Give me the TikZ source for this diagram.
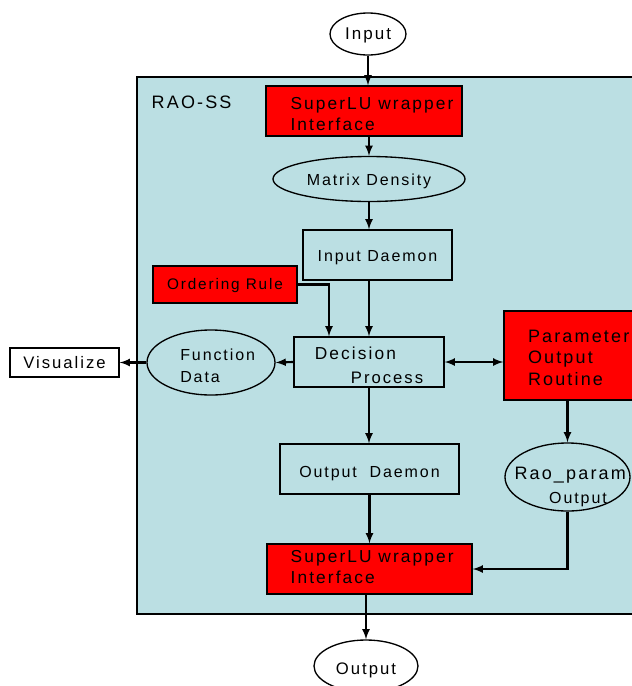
\documentclass[tikz,border=0pt]{standalone}
\usepackage{fontspec}
\setmainfont{Liberation Sans}[LetterSpace=12]
\usetikzlibrary{shapes.geometric,arrows}
\definecolor{raoblue}{RGB}{187,223,227}
\definecolor{raored}{RGB}{255,0,0}
\newcommand{\txtsize}[1]{\fontsize{#1}{16}\selectfont}
% lower the text a little inside its box, keeping the box size
\newcommand{\lowtxt}[2][3pt]{\raisebox{-#1}[\height][\depth]{\begin{tabular}{@{}l@{}}#2\end{tabular}}}

\begin{document}
\begin{tikzpicture}
                                [
                                    x=0.75pt, y=-0.75pt,
                                    redbox/.style = {draw, shape=rectangle, fill=raored, line width=1pt, inner sep=0pt},
                                    plainbox/.style = {draw, shape=rectangle, line width=1pt, inner sep=0pt},
                                    oval/.style = {draw, shape=ellipse, line width=1pt, inner sep=0pt},
                                    flow/.style = {-latex, line width=1.6pt},
                                ]

                                \clip (0,0) rectangle (632,686);
                                \filldraw[fill=raoblue, line width=1.2pt] (137,77) rectangle (660,614);
                                \node[anchor=west, font=\txtsize{13.5}] (raoss) at (147,102) {RAO-SS};

                                \node[oval, fill=white, minimum width=57pt, minimum height=31.5pt, font=\txtsize{12.75}] (input) at (368,34) {\lowtxt[0.75pt]{Input}};
                                \node[redbox, minimum width=147pt, minimum height=37.5pt, font=\txtsize{13}] (superTop) at (364,111)
                                    {\lowtxt[3.75pt]{\hspace*{12pt}SuperLU wrapper\\\hspace*{12pt}Interface}};
                                \node[oval, minimum width=144pt, minimum height=33.75pt, font=\txtsize{12}] (density) at (369,179) {\lowtxt[1.5pt]{Matrix Density}};
                                \node[plainbox, minimum width=111.75pt, minimum height=37.5pt, font=\txtsize{12}] (inDaemon) at (377.5,255) {\lowtxt[2pt]{Input Daemon}};
                                \node[redbox, minimum width=108pt, minimum height=27.75pt, font=\txtsize{11.5}] (ordering) at (225,284.5) {\lowtxt[0.75pt]{Ordering Rule}};
                                \node[plainbox, minimum width=112.5pt, minimum height=37.5pt, font=\fontsize{13}{18}\selectfont] (decision) at (369,362)
                                    {\lowtxt[3.75pt]{Decision\\\hspace*{27pt}\txtsize{12.5}Process}};
                                \node[oval, minimum width=96pt, minimum height=48.75pt, font=\fontsize{12}{16.5}\selectfont] (funcData) at (211,362.5)
                                    {\lowtxt[3.75pt]{\hspace*{10pt}Function\\\hspace*{10pt}Data}};
                                \node[plainbox, fill=white, minimum width=81.75pt, minimum height=21.75pt, font=\txtsize{12.5}] (visualize) at (64.5,362.5) {\lowtxt[1.5pt]{Visualize}};
                                \node[redbox, minimum width=102pt, minimum height=66.75pt, font=\txtsize{13.5}] (param) at (572,355.5)
                                    {\lowtxt[3pt]{\hspace*{10pt}Parameter\\\hspace*{10pt}Output\\\hspace*{10pt}Routine}};
                                \node[plainbox, minimum width=134.25pt, minimum height=37.5pt, font=\txtsize{12}] (outDaemon) at (369.5,469) {\lowtxt[3pt]{Output\ \ Daemon}};
                                \node[oval, minimum width=93.75pt, minimum height=51pt, font=\fontsize{13.5}{18}\selectfont] (raoParam) at (567.5,477)
                                    {\makebox[0pt]{\lowtxt[7.5pt]{\hspace*{4pt}Rao\_param\\\hspace*{30pt}\txtsize{12}Output}}};
                                \node[redbox, minimum width=153.75pt, minimum height=37.5pt, font=\txtsize{13}] (superBot) at (369.5,569)
                                    {\lowtxt[0pt]{\hspace*{4pt}SuperLU wrapper\\\hspace*{4pt}Interface}};
                                \node[oval, fill=white, minimum width=78pt, minimum height=39pt, font=\txtsize{12.5}] (output) at (366,666) {\lowtxt[3pt]{Output}};

                                \draw [flow] (input.south) -- (input.south |- superTop.north);
                                \draw [flow] (density.north |- superTop.south) -- (density.north);
                                \draw [flow] (density.south) -- (density.south |- inDaemon.north);
                                \draw [flow] (decision.north |- inDaemon.south) -- (decision.north);
                                \draw [flow] (ordering.east) -| ([xshift=-30pt]decision.north);
                                \draw [flow] (decision.west) -- (funcData.east);
                                \draw [flow] (funcData.west) -- (visualize.east);
                                \draw [latex-latex, line width=1.6pt] (decision.east) -- (decision.east -| param.west);
                                \draw [flow] (raoParam.north |- param.south) -- (raoParam.north);
                                \draw [flow] (decision.south) -- (decision.south |- outDaemon.north);
                                \draw [flow] (outDaemon.south) -- (outDaemon.south |- superBot.north);
                                \draw [flow] (raoParam.south) |- (superBot.east);
                                \draw [flow] (output.north |- superBot.south) -- (output.north);
                            \end{tikzpicture}
\end{document}
